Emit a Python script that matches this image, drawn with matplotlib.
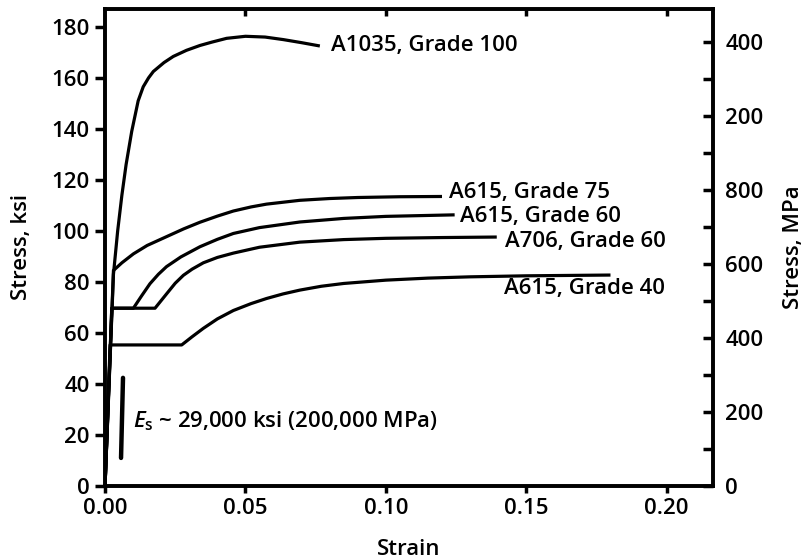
import matplotlib
matplotlib.use('Agg')
from matplotlib import pyplot as plt
from matplotlib.ticker import MultipleLocator, FixedLocator

plt.rcParams['font.family'] = ['Open Sans', 'DejaVu Sans']
plt.rcParams['font.weight'] = 'semibold'
plt.rcParams['axes.labelweight'] = 'semibold'
plt.rcParams['mathtext.fontset'] = 'custom'
plt.rcParams['mathtext.it'] = 'Open Sans:italic:semibold'
plt.rcParams['mathtext.rm'] = 'Open Sans:semibold'

### Data ###
a1035_strain = [0, 0.003, 0.0045, 0.006, 0.0075, 0.0095, 0.0118, 0.0136, 0.0155,
                0.0172, 0.021, 0.0243, 0.029, 0.0338, 0.038, 0.0433, 0.05,
                0.057, 0.0635, 0.07, 0.0765]
a1035_stress = [0, 83, 100, 114, 126, 139, 151, 156.5, 160,
                162.5, 166, 168.4, 170.8, 172.7, 174, 175.5, 176.3,
                176, 175, 173.8, 172.5]

g75_strain = [0, 0.003, 0.006, 0.0101, 0.015, 0.022, 0.028, 0.0338, 0.04, 0.0457,
              0.052, 0.0575, 0.0694, 0.08, 0.09, 0.105, 0.120]
g75_stress = [0, 84.5, 87.5, 91, 94.3, 97.8, 100.8, 103.4, 105.8, 107.8,
              109.4, 110.5, 112, 112.7, 113.1, 113.4, 113.5]

g60_strain = [0, 0.0024, 0.0101, 0.013, 0.016, 0.019, 0.0219, 0.027, 0.0338, 0.04,
              0.0457, 0.055, 0.0694, 0.085, 0.10, 0.1245]
g60_stress = [0, 69.7, 69.7, 74.5, 79.3, 83, 86, 89.8, 93.8, 96.7,
              99, 101.3, 103.5, 104.9, 105.7, 106.3]

a706_strain = [0, 0.0024, 0.0178, 0.0219, 0.025, 0.0279, 0.031, 0.035, 0.04, 0.0457,
               0.055, 0.0694, 0.085, 0.10, 0.12, 0.1395]
a706_stress = [0, 69.7, 69.7, 75.3, 79.5, 82.6, 85, 87.5, 89.6, 91.3,
               93.6, 95.6, 96.6, 97.1, 97.4, 97.6]

g40_strain = [0, 0.0018, 0.0273, 0.031, 0.035, 0.040, 0.0457, 0.052, 0.0575, 0.0634,
              0.0694, 0.077, 0.085, 0.10, 0.115, 0.13, 0.15, 0.18]
g40_stress = [0, 55.3, 55.3, 58.5, 61.8, 65.5, 68.8, 71.5, 73.5, 75.3,
              76.8, 78.3, 79.4, 80.7, 81.5, 82, 82.4, 82.7]

curve_labels = ['A1035, Grade 100', 'A615, Grade 75', 'A615, Grade 60',
                'A706, Grade 60', 'A615, Grade 40']
label_pos = [(0.0805, 172.5), (0.1225, 115), (0.1265, 105.5),
             (0.1425, 96), (0.142, 77.5)]

es_strain = [0.0057, 0.0064]
es_stress = [11, 42.4]

mpa_ticks = [0, 200, 400, 600, 800, 1000, 1200]
mpa_minor = [100, 300, 500, 700, 900, 1100]
mpa_labels = ['0', '200', '400', '600', '800', '200', '400']
KSI_TO_MPA = 6.895
#####################

FS = 16

fig = plt.figure(figsize=(8.03, 5.59), dpi=100)
ax = fig.add_axes([0.1308, 0.1306, 0.8879 - 0.1308, 0.9839 - 0.1306])

curves = [(a1035_strain, a1035_stress), (g75_strain, g75_stress),
          (g60_strain, g60_stress), (a706_strain, a706_stress),
          (g40_strain, g40_stress)]
for xs, ys in curves:
    ax.plot(xs, ys, color='black', lw=2.3, solid_joinstyle='round',
            solid_capstyle='butt')

for text, (x, y) in zip(curve_labels, label_pos):
    ax.text(x, y, text, fontsize=FS, va='center', ha='left')

# modulus marker
ax.plot(es_strain, es_stress, color='black', lw=3.2, solid_capstyle='round')
ax.text(0.0098, 25.5, r'$E_{\mathrm{s}}$' + ' ~ 29,000 ksi (200,000 MPa)',
        fontsize=FS, va='center', ha='left')

ax.set_xlim(0, 0.2165)
ax.set_ylim(0, 187)
ax.xaxis.set_major_locator(MultipleLocator(0.05))
ax.yaxis.set_major_locator(MultipleLocator(20))
ax.xaxis.set_major_formatter(plt.FuncFormatter(lambda v, p: f'{v:.2f}'))
ax.tick_params(axis='x', which='major', direction='out', length=5, width=2.5,
               labelsize=FS, pad=4)
ax.tick_params(axis='y', which='major', direction='out', length=7, width=2.5,
               labelsize=FS, pad=4)
for s in ax.spines.values():
    s.set_linewidth(2.6)

# inward ticks along the top edge
top = ax.secondary_xaxis('top')
top.set_xticks([0.05, 0.10, 0.15, 0.20])
top.tick_params(direction='in', length=5, width=2.5, labeltop=False)
top.spines['top'].set_visible(False)

ax2 = ax.twinx()
ax2.set_ylim(0, 187 * KSI_TO_MPA)
ax2.yaxis.set_major_locator(FixedLocator(mpa_ticks))
ax2.set_yticklabels(mpa_labels)
ax2.yaxis.set_minor_locator(FixedLocator(mpa_minor))
ax2.tick_params(axis='y', which='both', direction='in', length=7, width=2.5,
                labelsize=FS, pad=9)
for s in ax2.spines.values():
    s.set_linewidth(2.6)

ax.set_xlabel('Strain', fontsize=FS, labelpad=14)
ax.set_ylabel('Stress, ksi', fontsize=FS, labelpad=14)
ax2.set_ylabel('Stress, MPa', fontsize=FS, labelpad=14)

fig.savefig('out.png', dpi=100)
